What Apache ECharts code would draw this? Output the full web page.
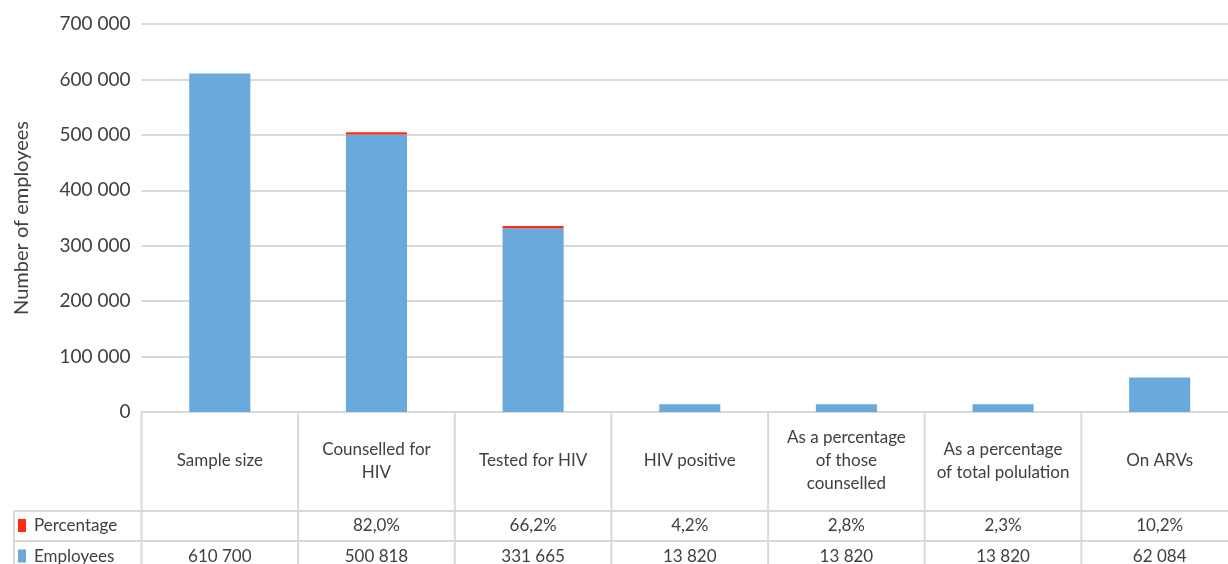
<!DOCTYPE html>
<html>
<head>
<meta charset="utf-8">
<script src="https://cdn.jsdelivr.net/npm/echarts@6/dist/echarts.min.js"></script>
<style>
html, body { margin: 0; padding: 0; background: #fff; }
#main { width: 1228px; height: 564px; }
</style>
</head>
<body>
<div id="main"></div>
<script>
// data
var categories = ['Sample size', 'Counselled for\nHIV', 'Tested for HIV', 'HIV positive',
  'As a percentage\nof those\ncounselled', 'As a percentage\nof total polulation', 'On ARVs'];
var employees = [610700, 500818, 331665, 13820, 13820, 13820, 62084];
var percentage = [null, 82.0, 66.2, 4.2, 2.8, 2.3, 10.2];
// thin red cap as it shows on the bars
var percentageBar = [0, 4000, 4000, 0, 0, 0, 0];
var seriesNames = ['Percentage', 'Employees'];

var textColor = '#404040';
var lineColor = '#d9d9d9';
var blue = '#69a9db';
var red = '#ff2b10';
var font = 'Lato, "Open Sans", sans-serif';

function fmtNum(v) {
  return String(v).replace(/\B(?=(\d{3})+(?!\d))/g, ' ');
}
function fmtPct(v) {
  return v == null ? '' : v.toFixed(1).replace('.', ',') + '%';
}

var chart = echarts.init(document.getElementById('main'));
chart.setOption({
  animation: false,
  textStyle: { fontFamily: font },
  grid: { left: 141.5, right: -10, top: 24, bottom: 152, outerBoundsMode: 'none' },
  xAxis: {
    type: 'category',
    data: categories,
    axisLine: { show: true, lineStyle: { color: lineColor, width: 2 } },
    axisTick: { show: false },
    axisLabel: {
      interval: 0,
      color: textColor,
      fontSize: 17,
      lineHeight: 23,
      verticalAlign: 'middle',
      margin: 49
    }
  },
  yAxis: {
    type: 'value',
    min: 0,
    max: 700000,
    interval: 100000,
    name: 'Number of employees',
    nameLocation: 'middle',
    nameGap: 110,
    nameTextStyle: { color: textColor, fontSize: 20 },
    axisLine: { show: false },
    axisTick: { show: false },
    axisLabel: {
      color: textColor,
      fontSize: 19,
      margin: 11,
      formatter: function (v) { return fmtNum(v); }
    },
    splitLine: { lineStyle: { color: lineColor, width: 2 } }
  },
  series: [
    {
      name: seriesNames[1],
      type: 'bar',
      stack: 'a',
      barWidth: '39%',
      itemStyle: { color: blue },
      data: employees
    },
    {
      name: seriesNames[0],
      type: 'bar',
      stack: 'a',
      itemStyle: { color: red },
      data: percentageBar
    }
  ]
});

// data table under the axis
function drawTable() {
  var x0 = chart.convertToPixel({ xAxisIndex: 0 }, 0);
  var x1 = chart.convertToPixel({ xAxisIndex: 0 }, 1);
  var step = x1 - x0;
  var axisY = chart.convertToPixel({ yAxisIndex: 0 }, 0);
  var row1 = axisY + 99;
  var row2 = row1 + 30;
  var bottom = row2 + 31;
  var legendLeft = 14;
  var els = [];
  function line(xa, ya, xb, yb) {
    els.push({ type: 'line', shape: { x1: xa, y1: ya, x2: xb, y2: yb },
      style: { stroke: lineColor, lineWidth: 2 }, silent: true });
  }
  function text(str, x, y, align) {
    els.push({ type: 'text', x: x, y: y, silent: true,
      style: { text: str, fill: textColor, font: '17px ' + font, align: align, verticalAlign: 'middle' } });
  }
  for (var i = 0; i <= categories.length; i++) {
    var ex = x0 - step / 2 + i * step;
    line(ex, axisY, ex, bottom + 10);
  }
  line(legendLeft, row1, 1240, row1);
  line(legendLeft, row2, 1240, row2);
  line(legendLeft, bottom, 1240, bottom);
  line(legendLeft, row1, legendLeft, bottom + 10);
  var rows = [
    { y: (row1 + row2) / 2, name: seriesNames[0], color: red, vals: percentage.map(fmtPct) },
    { y: (row2 + bottom) / 2, name: seriesNames[1], color: blue, vals: employees.map(fmtNum) }
  ];
  rows.forEach(function (r) {
    els.push({ type: 'rect', shape: { x: 18, y: r.y - 7, width: 8, height: 13 },
      style: { fill: r.color }, silent: true });
    text(r.name, 34, r.y, 'left');
    r.vals.forEach(function (v, k) {
      text(v, chart.convertToPixel({ xAxisIndex: 0 }, k), r.y, 'center');
    });
  });
  chart.setOption({ graphic: { elements: els } });
}
drawTable();
</script>
</body>
</html>
